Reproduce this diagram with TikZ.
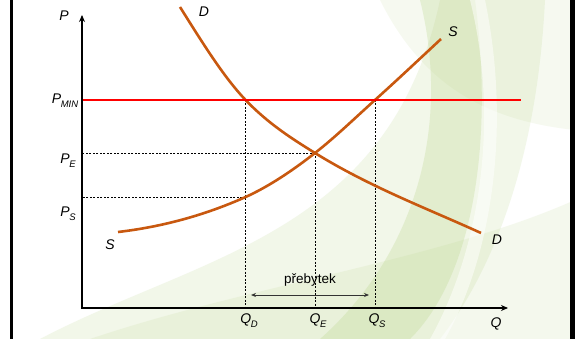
\documentclass[tikz,border=0pt]{standalone}
\usepackage{fontspec}
\setmainfont{Liberation Sans}
\usepackage{xcolor}
\definecolor{curveorange}{HTML}{C8580F}
\definecolor{leaf}{HTML}{B9D48A}
\usetikzlibrary{arrows.meta,positioning,calc}
\newcommand{\sublab}[2]{\itshape #1\kern-.3pt\raisebox{-3.8pt}{\fontsize{9.5}{9.5}\selectfont #2}}

\begin{document}
\begin{tikzpicture}[
  x=1pt,y=-1pt,
  every node/.style={font=\fontsize{14}{14}\selectfont\itshape,inner sep=1pt},
  axis/.style={-{Stealth[length=7pt,width=6pt]},line width=1.4pt},
  curve/.style={curveorange,line width=2.6pt},
  guide/.style={line width=0.7pt,dash pattern=on 2pt off 1.5pt},
  arr/.style={{Stealth[length=5pt,width=4pt]}-{Stealth[length=5pt,width=4pt]},line width=0.9pt,black!80},
]
\useasboundingbox (0,0) rectangle (575,339);
% background
\fill[white] (0,0) rectangle (575,339);
\fill[leaf,opacity=.18] (40,339) .. controls (200,255) and (390,235) .. (440,0) -- (545,0) .. controls (535,200) and (470,300) .. (440,339) -- cycle;
\fill[leaf,opacity=.28] (320,339) .. controls (420,250) and (450,120) .. (420,0) -- (475,0) .. controls (495,150) and (470,280) .. (410,339) -- cycle;
\fill[leaf,opacity=.15] (90,339) .. controls (250,285) and (440,260) .. (575,200) -- (575,339) -- cycle;
\fill[leaf,opacity=.12] (380,0) .. controls (420,80) and (480,120) .. (575,130) -- (575,0) -- cycle;
\fill[white,opacity=.5] (470,0) .. controls (500,120) and (480,250) .. (430,339) -- (445,339) .. controls (495,250) and (510,120) .. (485,0) -- cycle;
\fill (10,0) rectangle (13,339);
\fill (570,0) rectangle (575,339);

% points
\coordinate (O) at (82,308);
\coordinate (ytop) at (82,15);
\coordinate (xend) at (508,308);
\coordinate (pminL) at (82,100);
\coordinate (pminR) at (521,100);
\coordinate (dmin) at (245.6,100);
\coordinate (smin) at (375,100);
\coordinate (eq) at (315,153);
\coordinate (sps) at (245.6,197);
\coordinate (surL) at (251,295);
\coordinate (surR) at (369,295);

% guides
\draw[guide] (dmin) -- (dmin |- O);
\draw[guide] (smin) -- (smin |- O);
\draw[guide] (eq) -- (eq |- O);
\draw[guide] (eq) -- (eq -| O);
\draw[guide] (sps) -- (sps -| O);

% curves
\draw[curve] (180,7) .. controls (202,42) and (223.6,77) .. (dmin)
  .. controls (268.6,124) and (292,138.7) .. (eq)
  .. controls (370,187) and (426,208) .. (481,233);
\draw[curve] (118,232) .. controls (160.5,227) and (203,216) .. (sps)
  .. controls (268.6,186.6) and (292,171) .. (eq)
  .. controls (335,137.4) and (355,118) .. (smin)
  .. controls (397,80.2) and (419,59.5) .. (441,39);
\draw[red,line width=1.8pt] (pminL) -- (pminR);

% axes
\draw[axis] (O) -- (ytop);
\draw[axis] ($(O)+(-0.7,0)$) -- (xend);

% labels
\node (p) at (64,16) {P};
\node (pmin) at (65,101) {\sublab{P}{MIN}};
\node (pe) at (68,161) {\sublab{P}{E}};
\node (ps) at (68,214) {\sublab{P}{S}};
\node (q) at (496,324) {Q};
\node (qd) at (249,321) {\sublab{Q}{D}};
\node (qe) at (318,321) {\sublab{Q}{E}};
\node (qs) at (377,321) {\sublab{Q}{S}};
\node (dtop) at (204,12) {D};
\node (dbot) at (497,240) {D};
\node (stop) at (453,32) {S};
\node (sbot) at (110,245) {S};
\node[font=\fontsize{13.5}{13.5}\selectfont] (surplus) at (310,280) {přebytek};
\draw[arr] (surL) -- (surR);
\end{tikzpicture}
\end{document}
